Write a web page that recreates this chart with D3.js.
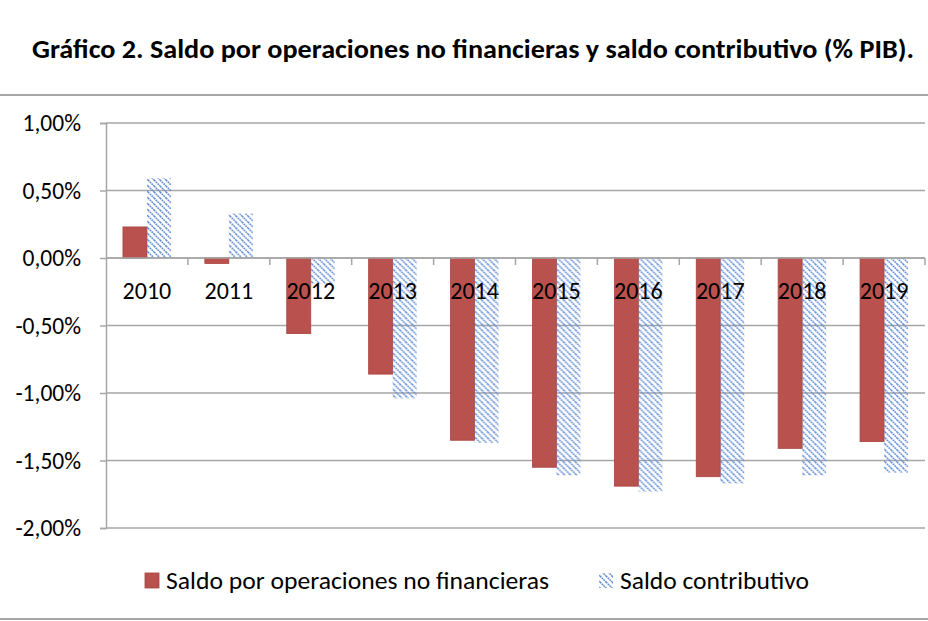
<!DOCTYPE html>
<html>
<head>
<meta charset="utf-8">
<script src="https://cdn.jsdelivr.net/npm/d3@7"></script>
<style>
  html, body { margin: 0; padding: 0; background: #fff; }
  svg { display: block; }
  text { font-family: Carlito, Calibri, "Open Sans", sans-serif; fill: #000; }
</style>
</head>
<body>
<svg id="chart" width="928" height="621"></svg>
<script>
// ---- data ----
const years = ["2010","2011","2012","2013","2014","2015","2016","2017","2018","2019"];
const saldoNoFinancieras = [0.23, -0.04, -0.56, -0.86, -1.35, -1.55, -1.69, -1.62, -1.41, -1.36];
const saldoContributivo  = [0.59, 0.33, -0.19, -1.04, -1.37, -1.61, -1.73, -1.67, -1.61, -1.59];
const seriesNames = ["Saldo por operaciones no financieras", "Saldo contributivo"];
const yTicks = [1.0, 0.5, 0.0, -0.5, -1.0, -1.5, -2.0];
const titleText = "Gráfico 2. Saldo por operaciones no financieras y saldo contributivo (% PIB).";

// ---- layout ----
const W = 928, H = 621;
const plot = { left: 106, right: 925, top: 123, bottom: 528 };
const svg = d3.select("#chart");
const FONT = 'Carlito, Calibri, "Open Sans", sans-serif';

const x0 = d3.scaleBand().domain(years).range([plot.left, plot.right]).padding(0);
const bw = x0.bandwidth();
const x1 = d3.scaleBand().domain([0, 1]).range([bw * 0.207, bw * 0.793]).padding(0);
const y = d3.scaleLinear().domain([-2, 1]).range([plot.bottom, plot.top]);

const fmt = v => d3.format(".2f")(v).replace(".", ",").replace("−", "-") + "%";

// pattern
const defs = svg.append("defs");
const pat = defs.append("pattern")
  .attr("id", "hatch").attr("patternUnits", "userSpaceOnUse")
  .attr("width", 6).attr("height", 6);
pat.append("path")
  .attr("d", "M0,0 L6,6 M-1,5 L1,7 M5,-1 L7,1")
  .attr("stroke", "#5f8bd2").attr("stroke-width", 1.6)
  .attr("stroke-dasharray", "1.8,0.7");

// border lines
svg.append("line").attr("x1", 0).attr("x2", W).attr("y1", 95).attr("y2", 95)
  .attr("stroke", "#a6a6a6").attr("stroke-width", 2);
svg.append("line").attr("x1", 0).attr("x2", W).attr("y1", 619).attr("y2", 619)
  .attr("stroke", "#a6a6a6").attr("stroke-width", 2);

// title
svg.append("text")
  .attr("x", 473).attr("y", 58)
  .attr("text-anchor", "middle")
  .attr("font-weight", "bold").attr("font-size", 26)
  .attr("textLength", 882).attr("lengthAdjust", "spacingAndGlyphs")
  .text(titleText);

// gridlines
svg.append("g").selectAll("line").data(yTicks).join("line")
  .attr("x1", plot.left).attr("x2", plot.right)
  .attr("y1", d => y(d)).attr("y2", d => y(d))
  .attr("stroke", "#a6a6a6").attr("stroke-width", 1.5);

// y axis
const yAxis = d3.axisLeft(y).tickValues(yTicks).tickFormat(fmt).tickSize(6).tickPadding(19);
const gy = svg.append("g").attr("transform", `translate(${plot.left},0)`).call(yAxis);
gy.select(".domain").attr("stroke", "#a6a6a6").attr("stroke-width", 1.5);
gy.selectAll(".tick line").attr("stroke", "#a6a6a6").attr("stroke-width", 1.5);
gy.selectAll(".tick text").attr("font-size", 23.5).attr("fill", "#000")
  .style("font-family", FONT);

// bars
const rows = years.map((yr, i) => ({ yr, vals: [saldoNoFinancieras[i], saldoContributivo[i]] }));
const groups = svg.append("g").selectAll("g").data(rows).join("g")
  .attr("transform", d => `translate(${x0(d.yr)},0)`);
groups.selectAll("rect").data(d => d.vals.map((v, k) => ({ v, k }))).join("rect")
  .attr("x", d => x1(d.k))
  .attr("width", x1.bandwidth())
  .attr("y", d => y(Math.max(0, d.v)))
  .attr("height", d => Math.abs(y(d.v) - y(0)))
  .attr("fill", d => d.k === 0 ? "#b9524e" : "url(#hatch)")
  .attr("stroke", d => d.k === 0 ? "#a9433f" : "none")
  .attr("stroke-width", 0.8);

// zero axis with category ticks
svg.append("line").attr("x1", plot.left).attr("x2", plot.right)
  .attr("y1", y(0)).attr("y2", y(0)).attr("stroke", "#a6a6a6").attr("stroke-width", 1.5);
const xAxis = d3.axisBottom(x0).tickSize(0).tickPadding(24);
const gx = svg.append("g").attr("transform", `translate(0,${y(0)})`).call(xAxis);
gx.select(".domain").remove();
gx.selectAll(".tick text").attr("font-size", 24).attr("fill", "#000")
  .style("font-family", FONT);
svg.append("g").selectAll("line").data(years.slice(1).concat(["end"])).join("line")
  .attr("x1", d => d === "end" ? plot.right : x0(d))
  .attr("x2", d => d === "end" ? plot.right : x0(d))
  .attr("y1", y(0)).attr("y2", y(0) + 7)
  .attr("stroke", "#a6a6a6").attr("stroke-width", 1.5);

// legend
const lg = svg.append("g");
lg.append("rect").attr("x", 145).attr("y", 573).attr("width", 14).attr("height", 15)
  .attr("fill", "#b9524e").attr("stroke", "#a9433f").attr("stroke-width", 0.8);
lg.append("text").attr("x", 166).attr("y", 589).attr("font-size", 24)
  .attr("textLength", 383).attr("lengthAdjust", "spacingAndGlyphs")
  .text(seriesNames[0]);
lg.append("rect").attr("x", 599).attr("y", 573).attr("width", 14).attr("height", 15)
  .attr("fill", "url(#hatch)");
lg.append("text").attr("x", 620).attr("y", 589).attr("font-size", 24)
  .attr("textLength", 189).attr("lengthAdjust", "spacingAndGlyphs")
  .text(seriesNames[1]);
</script>
</body>
</html>
